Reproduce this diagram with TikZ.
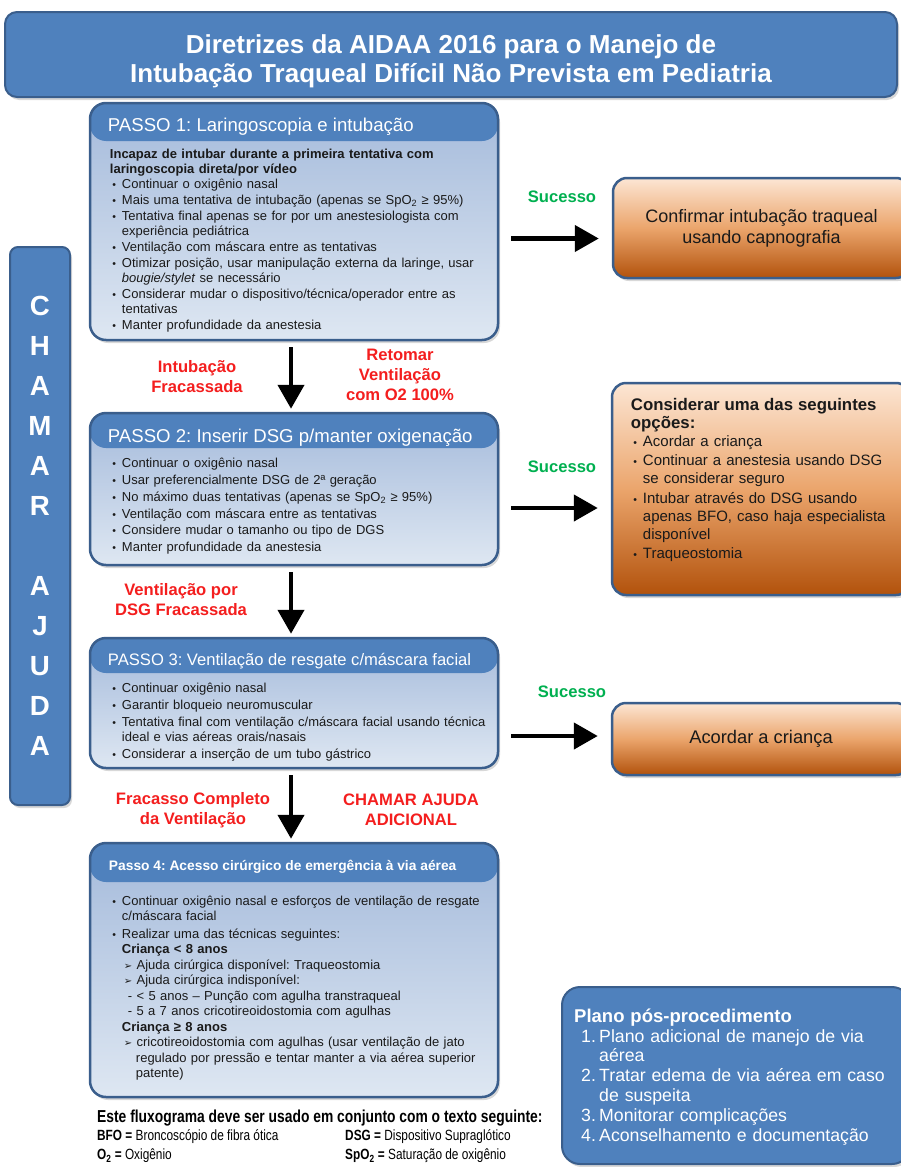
\documentclass[tikz,border=0pt]{standalone}
\usepackage{fontspec}
\setmainfont{Liberation Sans}
\newfontfamily\narrowsans[FakeStretch=0.8]{Liberation Sans}
\newfontfamily\dingsans{DejaVu Sans}
\usepackage{enumitem}
\usetikzlibrary{arrows.meta,positioning,calc,shadows}
\frenchspacing

\definecolor{hdrblue}{HTML}{4F81BD}
\definecolor{edgeblue}{HTML}{3A5E8C}
\definecolor{bodytop}{HTML}{A4BADB}
\definecolor{bodybot}{HTML}{DEE7F2}
\definecolor{orgtop}{HTML}{FCE6D4}
\definecolor{orgmid}{HTML}{EBA56C}
\definecolor{orgbot}{HTML}{B2520C}
\definecolor{failred}{HTML}{F41E1E}
\definecolor{okgreen}{HTML}{00B050}
\definecolor{inktext}{HTML}{1A1A1A}

\newcommand{\arrbullet}{{\dingsans\fontsize{10}{10}\selectfont ➢}}
\setlist[itemize]{label={\fontsize{10.5}{10}\selectfont\textbullet}, leftmargin=12pt, labelsep=6pt,
  topsep=0pt, partopsep=0pt, parsep=0pt, itemsep=1pt}

\begin{document}
\begin{tikzpicture}[x=1pt, y=-1pt]
  \tikzstyle{hdrbox} = [rectangle, rounded corners=12pt, draw=edgeblue, line width=2pt, fill=hdrblue,
                        text=white, align=center, drop shadow={shadow xshift=2pt, shadow yshift=-3pt, opacity=0.3}]
  \tikzstyle{resultbox} = [rectangle, rounded corners=14pt, draw=edgeblue, line width=2.5pt,
                        top color=orgtop, bottom color=orgbot, middle color=orgmid, text=inktext, align=center,
                        drop shadow={shadow xshift=2pt, shadow yshift=-3pt, opacity=0.3}]
  \tikzstyle{hdrtext} = [font=\fontsize{18.6}{20}\selectfont, text=white, anchor=west, inner sep=0pt]
  \tikzstyle{bodytext} = [font=\fontsize{13}{15}\selectfont, text=inktext, anchor=north west, inner sep=0pt,
                        align=left, text width=385pt]
  \tikzstyle{bigarrow} = [-{Triangle[length=24pt,width=26pt]}, line width=4.5pt, black]
  \tikzstyle{faillabel} = [font=\bfseries\fontsize{16.6}{20}\selectfont, text=failred, align=center]
  \tikzstyle{oklabel} = [font=\bfseries\fontsize{16.6}{20}\selectfont, text=okgreen]
  \tikzstyle{legend} = [font=\narrowsans\fontsize{14.8}{18}\selectfont, text=black, anchor=west, inner sep=0pt]
  \tikzset{stepbox/.style={rectangle, rounded corners=16pt, draw=edgeblue, line width=2.5pt,
                        top color=bodytop, bottom color=bodybot, minimum width=408pt,
                        drop shadow={shadow xshift=2pt, shadow yshift=-3pt, opacity=0.3},
                        path picture={\fill[hdrblue] (path picture bounding box.north west)
                          rectangle ($(path picture bounding box.north east)+(0,#1)$);}}}

  \useasboundingbox (0,0) rectangle (901,1167);
  \fill[white] (0,0) rectangle (901,1167);

  % title and side bar
  \node[hdrbox, minimum width=892pt, minimum height=85pt] (title) at (451,54.5) {};
  \node[text=white, align=center, font=\bfseries\fontsize{26}{29}\selectfont] (titletext) at (451,61)
    {Diretrizes da AIDAA 2016 para o Manejo de\\Intubação Traqueal Difícil Não Prevista em Pediatria};
  \node[hdrbox, rounded corners=8pt, minimum width=60pt, minimum height=558pt,
        font=\bfseries\fontsize{27.7}{40}\selectfont] (help) at (40,526)
    {C\\H\\A\\M\\A\\R\\~\\A\\J\\U\\D\\A};

  % steps
  \node[stepbox=38, minimum height=237pt] (s1) at (294,221.5) {};
  \node[stepbox=35, minimum height=152pt, below=70.5pt of s1] (s2) {};
  \node[stepbox=35, minimum height=130pt, below=70.5pt of s2] (s3) {};
  \node[stepbox=39, minimum height=254pt, below=72.5pt of s3] (s4) {};

  \node[hdrtext] (s1h) at ($(s1.north west)+(19,25)$) {PASSO 1: Laringoscopia e intubação};
  \node[bodytext] (s1b) at ($(s1.north west)+(21,47)$) {%
    {\bfseries Incapaz de intubar durante a primeira tentativa com\\laringoscopia direta/por vídeo}\par
    \begin{itemize}
      \item Continuar o oxigênio nasal
      \item Mais uma tentativa de intubação (apenas se SpO\textsubscript{2} ≥ 95\%)
      \item Tentativa final apenas se for por um anestesiologista com\\experiência pediátrica
      \item Ventilação com máscara entre as tentativas
      \item Otimizar posição, usar manipulação externa da laringe, usar\\\textit{bougie/stylet} se necessário
      \item Considerar mudar o dispositivo/técnica/operador entre as\\tentativas
      \item Manter profundidade da anestesia
    \end{itemize}};

  \node[hdrtext] (s2h) at ($(s2.north west)+(19,26)$) {PASSO 2: Inserir DSG p/manter oxigenação};
  \node[bodytext] (s2b) at ($(s2.north west)+(21,41)$) {%
    \begin{itemize}[itemsep=1.7pt]
      \item Continuar o oxigênio nasal
      \item Usar preferencialmente DSG de 2ª geração
      \item No máximo duas tentativas (apenas se SpO\textsubscript{2} ≥ 95\%)
      \item Ventilação com máscara entre as tentativas
      \item Considere mudar o tamanho ou tipo de DGS
      \item Manter profundidade da anestesia
    \end{itemize}};

  \node[hdrtext, font=\fontsize{16.6}{20}\selectfont] (s3h) at ($(s3.north west)+(19,24)$)
    {PASSO 3: Ventilação de resgate c/máscara facial};
  \node[bodytext] (s3b) at ($(s3.north west)+(21,41)$) {%
    \begin{itemize}[itemsep=1.7pt]
      \item Continuar oxigênio nasal
      \item Garantir bloqueio neuromuscular
      \item Tentativa final com ventilação c/máscara facial usando técnica\\ideal e vias aéreas orais/nasais
      \item Considerar a inserção de um tubo gástrico
    \end{itemize}};

  \node[hdrtext, font=\bfseries\fontsize{13.8}{16}\selectfont] (s4h) at ($(s4.north west)+(20,25)$)
    {Passo 4: Acesso cirúrgico de emergência à via aérea};
  \node[bodytext, font=\fontsize{13}{15.5}\selectfont] (s4b) at ($(s4.north west)+(21,48)$) {%
    \begin{itemize}[itemsep=2pt]
      \item Continuar oxigênio nasal e esforços de ventilação de resgate\\c/máscara facial
      \item Realizar uma das técnicas seguintes:\\
        \textbf{Criança < 8 anos}\\
        \hspace*{2pt}\arrbullet\ Ajuda cirúrgica disponível: Traqueostomia\\
        \hspace*{2pt}\arrbullet\ Ajuda cirúrgica indisponível:\\
        \hspace*{6pt}- < 5 anos – Punção com agulha transtraqueal\\
        \hspace*{6pt}- 5 a 7 anos cricotireoidostomia com agulhas\\
        \textbf{Criança ≥ 8 anos}\\
        \hspace*{2pt}\arrbullet\ cricotireoidostomia com agulhas (usar ventilação de jato\\
        \hspace*{14pt}regulado por pressão e tentar manter a via aérea superior\\
        \hspace*{14pt}patente)
    \end{itemize}};

  % outcomes
  \node[resultbox, minimum width=297pt, minimum height=100pt, font=\fontsize{18}{21}\selectfont] (r1) at (761.5,228)
    {Confirmar intubação traqueal\\usando capnografia};
  \node[resultbox, minimum width=298pt, minimum height=212pt] (r2) at (761,489) {};
  \node[anchor=north west, inner sep=0pt, text width=285pt, align=left, text=inktext,
        font=\fontsize{15}{18}\selectfont] (r2t) at ($(r2.north west)+(20,16)$) {%
    {\bfseries\fontsize{16.8}{18}\selectfont Considerar uma das seguintes\\opções:}\par
    \begin{itemize}[leftmargin=12pt, labelsep=6pt, itemsep=1.5pt]
      \item Acordar a criança
      \item Continuar a anestesia usando DSG\\se considerar seguro
      \item Intubar através do DSG usando\\apenas BFO, caso haja especialista\\disponível
      \item Traqueostomia
    \end{itemize}};
  \node[resultbox, minimum width=298pt, minimum height=72pt, font=\fontsize{18.3}{21}\selectfont] (r3) at (761,739)
    {Acordar a criança};

  \node[hdrbox, rounded corners=18pt, minimum width=348pt, minimum height=177pt] (plan) at (736,1075.5) {};
  \node[anchor=north west, inner sep=0pt, text width=320pt, align=left, text=white,
        font=\fontsize{17.7}{19.5}\selectfont] (plant) at ($(plan.north west)+(13,23)$) {%
    {\bfseries\fontsize{18.5}{19.5}\selectfont Plano pós-procedimento}\par
    \begin{enumerate}[label=\arabic*., leftmargin=25pt, labelwidth=18pt, labelsep=0pt, align=left,
                      topsep=0pt, partopsep=0pt, parsep=0pt, itemsep=0.5pt]
      \item Plano adicional de manejo de via\\aérea
      \item Tratar edema de via aérea em caso\\de suspeita
      \item Monitorar complicações
      \item Aconselhamento e documentação
    \end{enumerate}};

  % connectors
  \draw[bigarrow] ($(s1.south)+(-3,6)$) -- ($(s2.north)+(-3,-3)$);
  \draw[bigarrow] ($(s2.south)+(-3,6)$) -- ($(s3.north)+(-3,-3)$);
  \draw[bigarrow] ($(s3.south)+(-3,6)$) -- ($(s4.north)+(-3,-3)$);
  \draw[bigarrow] ($(s1.east)+(12,17)$) -- ($(s1.east -| r1.west)+(-13,17)$);
  \draw[bigarrow] ($(s2.east)+(12,19)$) -- ($(s2.east -| r2.west)+(-13,19)$);
  \draw[bigarrow] ($(s3.east |- r3.west)+(12,-3)$) -- ($(r3.west)+(-13,-3)$);

  \node[oklabel] (ok1) at (562,197) {Sucesso};
  \node[oklabel] (ok2) at (562,467) {Sucesso};
  \node[oklabel] (ok3) at (572,692) {Sucesso};
  \node[faillabel] (f1) at (197,377) {Intubação\\Fracassada};
  \node[faillabel] (f1r) at (400,375) {Retomar\\Ventilação\\com O2 100\%};
  \node[faillabel] (f2) at (181,600) {Ventilação por\\DSG Fracassada};
  \node[faillabel] (f3) at (193,810) {Fracasso Completo\\da Ventilação};
  \node[faillabel] (f3r) at (411,810) {CHAMAR AJUDA\\ADICIONAL};

  % legend
  \node[legend, font=\narrowsans\bfseries\fontsize{17.3}{20}\selectfont] (note) at (97,1118)
    {Este fluxograma deve ser usado em conjunto com o texto seguinte:};
  \node[legend] (bfo) at (97,1137) {\textbf{BFO =} Broncoscópio de fibra ótica};
  \node[legend] (dsg) at (345,1137) {\textbf{DSG =} Dispositivo Supraglótico};
  \node[legend] (oxy) at (97,1156) {\textbf{O\textsubscript{2} =} Oxigênio};
  \node[legend] (spo) at (345,1156) {\textbf{SpO\textsubscript{2} =} Saturação de oxigênio};
\end{tikzpicture}
\end{document}
